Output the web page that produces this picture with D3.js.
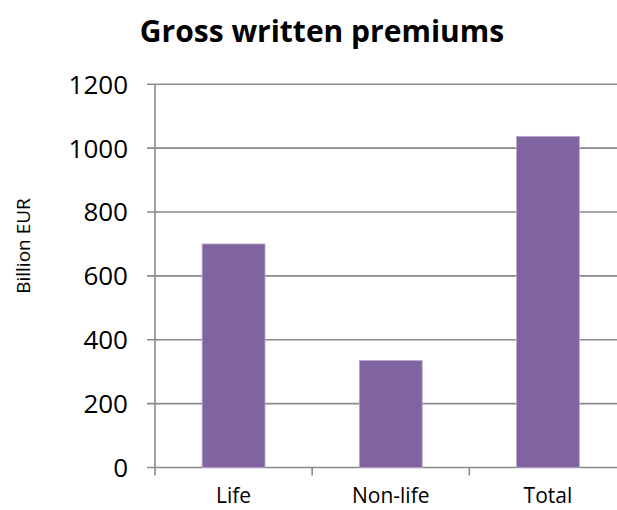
<!DOCTYPE html>
<html><head><meta charset="utf-8">
<script src="https://cdn.jsdelivr.net/npm/d3@7"></script>
<style>body{margin:0;background:#fff}svg{display:block}</style>
</head><body>
<svg id="c" width="617" height="510"></svg>
<script>
const categories = ["Life", "Non-life", "Total"];
const values = [700, 335, 1037];
const yTicks = [0, 200, 400, 600, 800, 1000, 1200];
const title = "Gross written premiums";
const yLabel = "Billion EUR";

(function () {
const svg = d3.select("#c");
const font = "'Open Sans', 'Liberation Sans', sans-serif";
const pLeft = 155, pRight = 626.5, pTop = 84.3, pBottom = 467.5;
const x = d3.scaleBand().domain(categories).range([pLeft, pRight]).paddingInner(0.6).paddingOuter(0.3);
const y = d3.scaleLinear().domain([0, 1200]).range([pBottom, pTop]);
const grid = "#8a8a8a";

svg.append("g").selectAll("line").data(yTicks).join("line")
  .attr("x1", pLeft - 8).attr("x2", pRight)
  .attr("y1", d => y(d)).attr("y2", d => y(d))
  .attr("stroke", grid).attr("stroke-width", 1.6);

svg.append("line").attr("x1", pLeft).attr("x2", pLeft).attr("y1", pTop).attr("y2", pBottom + 8)
  .attr("stroke", grid).attr("stroke-width", 1.6);

const step = x.step();
const bounds = d3.range(categories.length + 1).map(i => pLeft + i * step);
svg.append("g").selectAll("line").data(bounds.slice(1)).join("line")
  .attr("x1", d => d).attr("x2", d => d).attr("y1", pBottom).attr("y2", pBottom + 8)
  .attr("stroke", grid).attr("stroke-width", 1.6);

svg.append("g").selectAll("rect").data(categories).join("rect")
  .attr("x", d => x(d)).attr("width", x.bandwidth())
  .attr("y", (d, i) => y(values[i])).attr("height", (d, i) => y(0) - y(values[i]))
  .attr("fill", "#8064A2").attr("stroke", "#b9a9cf").attr("stroke-width", 0.8);

svg.append("g").selectAll("text").data(yTicks).join("text")
  .attr("x", 128).attr("y", d => y(d)).attr("dy", "0.36em")
  .attr("text-anchor", "end").attr("font-family", font).attr("font-size", 26)
  .attr("fill", "#000").text(d => d);

svg.append("g").selectAll("text").data(categories).join("text")
  .attr("x", d => x(d) + x.bandwidth() / 2).attr("y", 503)
  .attr("text-anchor", "middle").attr("font-family", font).attr("font-size", 21)
  .attr("fill", "#000").text(d => d);

svg.append("text").attr("x", 322).attr("y", 42).attr("text-anchor", "middle")
  .attr("font-family", font).attr("font-weight", "bold").attr("font-size", 30)
  .text(title);

svg.append("text").attr("transform", "translate(30,246) rotate(-90)")
  .attr("text-anchor", "middle").attr("font-family", font).attr("font-size", 19)
  .text(yLabel);
})();
</script>
</body></html>
